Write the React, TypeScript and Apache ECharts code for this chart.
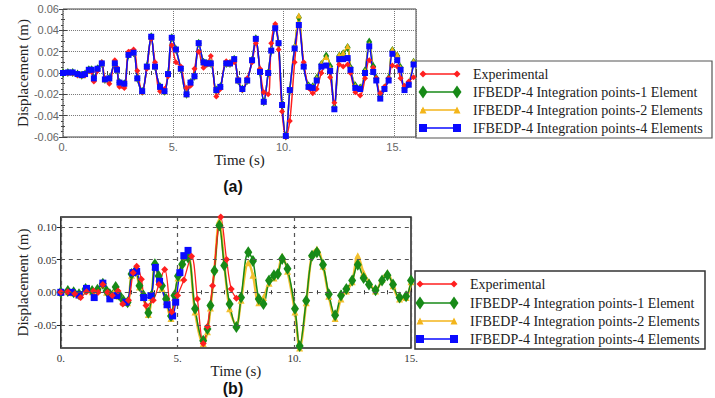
import React, { useEffect, useRef } from 'react';
import * as echarts from 'echarts';

// ---------- Panel (a) ----------
const TIME_A = [
  0, 0.22, 0.44, 0.66, 0.85, 1.0, 1.17, 1.3, 1.4, 1.57, 1.76, 1.9, 2.1, 2.35, 2.45, 2.56, 2.78, 2.97, 3.2, 3.37,
  3.59, 3.8, 4.0, 4.17, 4.4, 4.6, 4.76, 4.93, 5.12, 5.34, 5.6, 5.78, 5.96, 6.15, 6.37, 6.52, 6.7, 6.95, 7.13, 7.4,
  7.57, 7.76, 7.94, 8.13, 8.35, 8.57, 8.74, 8.93, 9.1, 9.3, 9.44, 9.62, 9.77, 9.93, 10.1, 10.28, 10.5, 10.69, 10.91, 11.13,
  11.32, 11.5, 11.71, 11.93, 12.11, 12.3, 12.52, 12.7, 12.9, 13.03, 13.25, 13.47, 13.69, 13.88, 14.06, 14.2, 14.38, 14.57, 14.76, 14.93,
  15.15, 15.3, 15.48, 15.67, 15.89,
];
const EXP_A = [
  0, 0, 0, -0.002, -0.002, -0.002, 0.002, 0.001, -0.008, 0.002, 0.01, -0.005, -0.01, 0.012, 0.005, -0.013, -0.014, 0.02, 0.022, 0.002,
  -0.018, 0.004, 0.032, 0.01, -0.017, -0.015, -0.003, 0.026, 0.01, 0.006, -0.014, -0.012, 0.004, 0.02, 0.005, 0.008, 0.016, -0.022, -0.015, 0.011,
  0.01, 0.01, -0.006, -0.016, -0.005, 0.01, 0.028, 0.004, -0.018, -0.02, 0.028, 0.046, 0.022, -0.036, -0.06, -0.045, 0.01, 0.045, 0.01, -0.014,
  -0.019, -0.015, 0, 0.007, -0.004, -0.028, 0.008, 0.006, 0.008, 0, -0.018, -0.021, -0.005, 0.012, 0.005, -0.005, -0.019, -0.013, -0.005, 0.007,
  0.006, -0.005, -0.012, -0.008, -0.004,
];
const ONE_ELEM_A = [
  0, 0.0005, 0.0005, -0.001, -0.002, -0.001, 0.003, 0.003, -0.005, 0.004, 0.009, -0.006, -0.005, 0.009, 0.003, -0.009, -0.01, 0.017, 0.019, -0.005,
  -0.017, 0.006, 0.034, 0.006, -0.013, -0.017, -0.001, 0.033, 0.022, 0.004, -0.02, -0.009, -0.003, 0.028, 0.01, 0.009, 0.009, -0.016, -0.013, 0.009,
  0.009, 0.013, -0.007, -0.015, -0.007, 0.012, 0.032, 0.001, -0.027, 0, 0.021, 0.043, 0.028, -0.03, -0.059, -0.016, 0.024, 0.052, 0.007, -0.012,
  -0.013, -0.005, 0.008, 0.016, 0.006, -0.032, 0.016, 0.018, 0.024, 0.005, -0.012, -0.014, 0.002, 0.029, 0.006, -0.005, -0.022, -0.014, -0.005, 0.021,
  0.016, 0.005, -0.014, -0.01, 0.01,
];
const TWO_ELEM_A = [
  0, 0.0005, 0.0005, -0.001, -0.002, -0.001, 0.003, 0.003, -0.005, 0.004, 0.009, -0.006, -0.005, 0.009, 0.003, -0.009, -0.01, 0.018, 0.019, -0.005,
  -0.017, 0.006, 0.034, 0.006, -0.013, -0.017, -0.001, 0.033, 0.022, 0.004, -0.02, -0.009, -0.003, 0.028, 0.01, 0.009, 0.009, -0.016, -0.013, 0.009,
  0.009, 0.013, -0.007, -0.015, -0.007, 0.012, 0.032, 0.001, -0.027, 0, 0.022, 0.045, 0.028, -0.03, -0.059, -0.016, 0.025, 0.054, 0.007, -0.012,
  -0.013, -0.005, 0.009, 0.015, 0.005, -0.032, 0.017, 0.019, 0.025, 0.005, -0.012, -0.014, 0.002, 0.027, 0.005, -0.005, -0.022, -0.014, -0.005, 0.022,
  0.017, 0.005, -0.014, -0.01, 0.011,
];
const FOUR_ELEM_A = [
  0, 0.0005, 0.0005, -0.001, -0.002, -0.001, 0.003, 0.003, -0.005, 0.004, 0.009, -0.006, -0.005, 0.009, 0.003, -0.009, -0.01, 0.017, 0.019, -0.005,
  -0.017, 0.006, 0.034, 0.006, -0.013, -0.017, -0.001, 0.033, 0.022, 0.004, -0.02, -0.009, -0.003, 0.028, 0.01, 0.009, 0.009, -0.016, -0.013, 0.009,
  0.009, 0.013, -0.007, -0.015, -0.007, 0.012, 0.032, 0.001, -0.027, 0, 0.021, 0.042, 0.028, -0.03, -0.059, -0.016, 0.023, 0.045, 0.006, -0.013,
  -0.014, -0.007, 0.006, 0.007, 0.002, -0.034, 0.013, 0.013, 0.014, 0.003, -0.014, -0.015, 0, 0.025, 0.001, -0.007, -0.024, -0.015, -0.007, 0.018,
  0.012, 0.003, -0.016, -0.011, 0.008,
];

// ---------- Panel (b) ----------
const TIME_B = [
  0, 0.3, 0.55, 0.78, 1.06, 1.34, 1.57, 1.8, 1.96, 2.1, 2.35, 2.5, 2.68, 2.86, 3.03, 3.2, 3.37, 3.54, 3.75, 3.89,
  4.03, 4.19, 4.33, 4.51, 4.72, 4.87, 5.02, 5.2, 5.45, 5.75, 6.1, 6.28, 6.41, 6.58, 6.79, 7.0, 7.23, 7.52, 7.72, 8.03,
  8.23, 8.48, 8.68, 8.92, 9.13, 9.3, 9.48, 9.71, 10.03, 10.23, 10.51, 10.76, 10.97, 11.23, 11.48, 11.75, 12.0, 12.23, 12.48, 12.72,
  12.97, 13.2, 13.48, 13.76, 13.99, 14.23, 14.51, 14.79, 15.0,
];
const ONE_ELEM_B = [
  0, 0.002, 0, -0.003, 0.005, 0.002, 0.004, 0.013, 0.002, -0.003, 0.008, -0.004, -0.013, -0.015, 0.028, 0.033, 0.01, -0.005, -0.031, -0.005,
  0.043, 0.025, 0.01, -0.01, -0.036, -0.005, 0.025, 0.043, 0.053, -0.025, -0.074, -0.056, -0.02, 0.033, 0.102, 0.041, -0.018, -0.053, -0.008, 0.061,
  0.048, -0.01, -0.018, 0.018, 0.026, 0.028, 0.051, 0.036, -0.025, -0.082, -0.013, 0.056, 0.061, 0.042, -0.003, -0.035, -0.005, 0.005, 0.018, 0.042,
  0.022, 0.012, 0.003, 0.018, 0.026, 0.012, -0.008, -0.006, 0.018,
];
const TWO_ELEM_B = [
  0, 0.001, -0.001, -0.004, 0.004, 0.001, 0.003, 0.011, 0, -0.005, 0.006, -0.006, -0.015, -0.016, 0.026, 0.031, 0.008, -0.008, -0.034, -0.008,
  0.04, 0.022, 0.006, -0.014, -0.04, -0.008, 0.022, 0.045, 0.055, -0.03, -0.078, -0.06, -0.024, 0.035, 0.11, 0.044, -0.025, -0.05, -0.012, 0.045,
  0.026, -0.016, -0.008, 0.014, 0.022, 0.03, 0.055, 0.032, -0.03, -0.085, -0.016, 0.058, 0.066, 0.04, -0.006, -0.04, -0.01, 0.002, 0.016, 0.056,
  0.03, 0.016, 0.002, 0.02, 0.03, 0.01, -0.01, -0.008, 0.016,
];
const TIME_B_EXP = [
  0, 0.3, 0.6, 0.85, 1.1, 1.4, 1.6, 1.8, 2.0, 2.2, 2.45, 2.65, 2.9, 3.1, 3.25, 3.45, 3.65, 3.96, 4.2, 4.45,
  4.75, 5.0, 5.27, 5.6, 5.85, 6.1, 6.28, 6.5, 6.85, 7.1, 7.3, 7.52,
];
const EXP_B = [
  0, 0.001, -0.002, -0.008, 0.001, 0.002, 0, 0.012, 0, -0.005, 0.002, -0.018, -0.012, 0.03, 0.04, 0.02, -0.02, -0.012, 0.012, 0.035,
  -0.03, -0.005, 0.019, 0.055, -0.01, -0.078, -0.052, 0.01, 0.115, 0.05, 0.005, -0.009,
];
const TIME_B_FOUR = [0, 0.45, 0.78, 1.1, 1.43, 1.8, 2.1, 2.4, 2.79, 3.09, 3.25, 3.55, 3.86, 4.05, 4.23, 4.55, 4.79, 4.92, 5.1, 5.27, 5.45];
const FOUR_ELEM_B = [0, 0, -0.004, 0.006, -0.008, 0.014, -0.01, -0.005, -0.015, 0.03, 0.032, -0.008, -0.005, 0.038, 0.017, -0.019, -0.036, -0.015, 0.03, 0.056, 0.064];

// ---------- Shared labels / ticks ----------
const SERIES_NAMES = [
  'Experimental',
  'IFBEDP-4 Integration points-1 Element',
  'IFBEDP-4 Integration points-2 Elements',
  'IFBEDP-4 Integration points-4 Elements',
];
const Y_TICKS_B = [-0.05, 0, 0.05, 0.1];
const X_LABEL = 'Time (s)';
const Y_LABEL = 'Displacement (m)';
const PANEL_TAGS = ['(a)', '(b)'];

const RED = '#ff1f1f';
const GREEN = '#178a17';
const YELLOW = '#f3b51a';
const BLUE = '#0a0aff';

const SERIF = 'Liberation Serif';
const SANS = 'Liberation Sans';

const pairs = (t: number[], v: number[]) => t.map((x, i) => [x, v[i]]);

function diamond(cx: number, cy: number, w: number, h: number, color: string) {
  return {
    type: 'polygon',
    shape: { points: [[cx, cy - h / 2], [cx + w / 2, cy], [cx, cy + h / 2], [cx - w / 2, cy]] },
    style: { fill: color },
  };
}
function triangle(cx: number, cy: number, s: number, color: string) {
  return {
    type: 'polygon',
    shape: { points: [[cx, cy - s / 2], [cx + s / 2, cy + s / 2], [cx - s / 2, cy + s / 2]] },
    style: { fill: color },
  };
}
function square(cx: number, cy: number, s: number, color: string) {
  return { type: 'rect', shape: { x: cx - s / 2, y: cy - s / 2, width: s, height: s }, style: { fill: color } };
}

// Legend box drawn as graphics: a line with a marker at each end, then the label
function legendBox(
  left: number, top: number, width: number, height: number,
  rows: number[], x0: number, x1: number, textX: number, fontSize: number, borderColor: string, borderWidth: number,
) {
  const children: any[] = [
    { type: 'rect', shape: { x: 0, y: 0, width, height }, style: { fill: '#fff', stroke: borderColor, lineWidth: borderWidth } },
  ];
  const colors = [RED, GREEN, YELLOW, BLUE];
  rows.forEach((y, i) => {
    const c = colors[i];
    children.push({ type: 'line', shape: { x1: x0, y1: y, x2: x1, y2: y }, style: { stroke: c, lineWidth: 1.3 } });
    [x0 + 2, x1 - 1].forEach((mx) => {
      if (i === 0) children.push(diamond(mx, y, 7, 7, c));
      if (i === 1) children.push(diamond(mx, y, 9, 13, c));
      if (i === 2) children.push(triangle(mx, y, 7, c));
      if (i === 3) children.push(square(mx, y, 8, c));
    });
    children.push({
      type: 'text',
      x: textX,
      y,
      style: {
        text: SERIES_NAMES[i], fontFamily: SERIF, fontSize, fill: '#222',
        verticalAlign: 'middle', align: 'left',
      },
    });
  });
  return { type: 'group', x: left, y: top, children };
}

function lineSeries(name: string, data: number[][], axis: number, color: string, symbol: string, size: any, width: number, extra: any = {}) {
  return {
    name,
    type: 'line',
    xAxisIndex: axis,
    yAxisIndex: axis,
    data,
    smooth: 0.35,
    symbol,
    symbolSize: size,
    showAllSymbol: true,
    itemStyle: { color },
    lineStyle: { color, width },
    emphasis: { disabled: true },
    ...extra,
  };
}

export default function App() {
  const ref = useRef<HTMLDivElement>(null);

  useEffect(() => {
    const chart = echarts.init(ref.current!, null, { renderer: 'svg' });

    const mirrorX = (grid: number, min: number, max: number) => ({
      gridIndex: grid, type: 'value', position: 'top', min, max, interval: 5,
      axisLine: { show: false }, axisLabel: { show: false }, splitLine: { show: false },
      axisTick: { show: true, inside: true, length: 4, lineStyle: { color: '#444' } },
      minorTick: { show: true, splitNumber: 5, length: 2, lineStyle: { color: '#444' } },
    });

    const option: any = {
      animation: false,
      backgroundColor: '#fff',
      grid: [
        { left: 52, top: 9, width: 364, height: 128, show: true, borderColor: '#444', borderWidth: 1, backgroundColor: 'transparent' },
        { left: 50, top: 217, width: 361, height: 131, show: true, borderColor: '#222', borderWidth: 1.5, backgroundColor: 'transparent' },
      ],
      xAxis: [
        {
          gridIndex: 0, type: 'value', min: 0, max: 16, interval: 5,
          name: X_LABEL, nameLocation: 'middle', nameGap: 15,
          nameTextStyle: { fontFamily: SERIF, fontSize: 15, color: '#222' },
          axisLine: { show: false },
          axisTick: { show: true, inside: true, length: 4, lineStyle: { color: '#444' } },
          minorTick: { show: true, splitNumber: 5, length: 2, lineStyle: { color: '#444' } },
          axisLabel: {
            margin: 4, fontFamily: SANS, fontSize: 11, color: '#666',
            formatter: (v: number) => (v % 5 === 0 ? `${v}.` : ''),
          },
          splitLine: { show: true, lineStyle: { type: 'dotted', color: '#777', width: 1 } },
        },
        {
          gridIndex: 1, type: 'value', min: 0, max: 15, interval: 5,
          name: X_LABEL, nameLocation: 'middle', nameGap: 12,
          nameTextStyle: { fontFamily: SERIF, fontSize: 15, color: '#222' },
          axisLine: { show: false },
          axisTick: { show: true, inside: true, length: 4, lineStyle: { color: '#222' } },
          minorTick: { show: true, splitNumber: 5, length: 2, lineStyle: { color: '#222' } },
          axisLabel: { margin: 4, fontFamily: SERIF, fontSize: 11, color: '#333', formatter: (v: number) => `${v}.` },
          splitLine: { show: true, lineStyle: { type: [4, 4], color: '#555', width: 1.2 } },
        },
        mirrorX(0, 0, 16),
        mirrorX(1, 0, 15),
      ],
      yAxis: [
        {
          gridIndex: 0, type: 'value', min: -0.06, max: 0.06, interval: 0.02,
          name: Y_LABEL, nameLocation: 'middle', nameGap: 32, nameRotate: 90,
          nameTextStyle: { fontFamily: SERIF, fontSize: 15, color: '#222' },
          axisLine: { show: false },
          axisTick: { show: true, inside: true, length: 4, lineStyle: { color: '#444' } },
          minorTick: { show: true, splitNumber: 2, length: 2, lineStyle: { color: '#444' } },
          axisLabel: { margin: 4, fontFamily: SANS, fontSize: 11, color: '#666', formatter: (v: number) => v.toFixed(2) },
          splitLine: { show: true, lineStyle: { type: 'dotted', color: '#777', width: 1 } },
        },
        {
          gridIndex: 1, type: 'value', min: -0.085, max: 0.115,
          name: Y_LABEL, nameLocation: 'middle', nameGap: 30, nameRotate: 90,
          nameTextStyle: { fontFamily: SERIF, fontSize: 15, color: '#222' },
          axisLine: { show: false },
          axisTick: { show: true, inside: true, length: 4, customValues: Y_TICKS_B, lineStyle: { color: '#222' } },
          axisLabel: {
            margin: 4, fontFamily: SERIF, fontSize: 11, color: '#333', customValues: Y_TICKS_B,
            formatter: (v: number) => v.toFixed(2),
          },
          splitLine: { show: false },
        },
        {
          gridIndex: 0, type: 'value', position: 'right', min: -0.06, max: 0.06, interval: 0.02,
          axisLine: { show: false }, axisLabel: { show: false }, splitLine: { show: false },
          axisTick: { show: true, inside: true, length: 4, lineStyle: { color: '#444' } },
          minorTick: { show: true, splitNumber: 4, length: 2, lineStyle: { color: '#444' } },
        },
        {
          gridIndex: 1, type: 'value', position: 'right', min: -0.085, max: 0.115,
          axisLine: { show: false }, axisLabel: { show: false }, splitLine: { show: false },
          axisTick: { show: true, inside: true, length: 4, customValues: Y_TICKS_B, lineStyle: { color: '#222' } },
        },
      ],
      series: [
        lineSeries(SERIES_NAMES[1], pairs(TIME_A, ONE_ELEM_A), 0, GREEN, 'diamond', [6, 9], 1.5),
        lineSeries(SERIES_NAMES[2], pairs(TIME_A, TWO_ELEM_A), 0, YELLOW, 'triangle', 6, 1.5),
        lineSeries(SERIES_NAMES[0], pairs(TIME_A, EXP_A), 0, RED, 'diamond', 6, 1.5),
        lineSeries(SERIES_NAMES[3], pairs(TIME_A, FOUR_ELEM_A), 0, BLUE, 'rect', 6, 1.5),

        lineSeries(SERIES_NAMES[2], pairs(TIME_B, TWO_ELEM_B), 1, '#f2c030', 'triangle', 7, 2.5, {
          markLine: {
            silent: true,
            symbol: 'none',
            label: { show: false },
            lineStyle: { type: [4, 4], color: '#555', width: 1.2 },
            data: Y_TICKS_B.map((v) => ({ yAxis: v })),
          },
        }),
        lineSeries(SERIES_NAMES[1], pairs(TIME_B, ONE_ELEM_B), 1, GREEN, 'diamond', [8, 12], 1.5),
        lineSeries(SERIES_NAMES[3], pairs(TIME_B_FOUR, FOUR_ELEM_B), 1, BLUE, 'rect', 7, 1.3),
        lineSeries(SERIES_NAMES[0], pairs(TIME_B_EXP, EXP_B), 1, RED, 'diamond', 7, 1.3),
      ],
      graphic: [
        legendBox(416, 61, 296, 77, [13, 31, 49, 67], 5, 42, 57, 14, '#555', 1.2),
        legendBox(415, 271, 290, 78, [13, 32, 50, 68], 3, 40, 55, 14, '#333', 1.5),
        {
          type: 'text', x: 233, y: 186,
          style: { text: PANEL_TAGS[0], fontFamily: SANS, fontWeight: 'bold', fontSize: 16, fill: '#111', align: 'center', verticalAlign: 'middle' },
        },
        {
          type: 'text', x: 233, y: 388,
          style: { text: PANEL_TAGS[1], fontFamily: SANS, fontWeight: 'bold', fontSize: 16, fill: '#111', align: 'center', verticalAlign: 'middle' },
        },
      ],
    };

    chart.setOption(option);
    return () => chart.dispose();
  }, []);

  return (
    <div
      ref={ref}
      style={{ position: 'absolute', left: 0, top: 0, width: 715, height: 398, background: '#fff' }}
    />
  );
}
